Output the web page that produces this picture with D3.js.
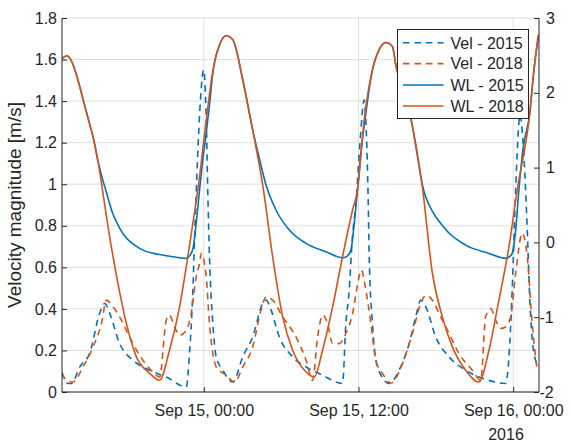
<!DOCTYPE html>
<html><head><meta charset="utf-8">
<script src="https://cdn.jsdelivr.net/npm/d3@7"></script>
<style>
body{margin:0;background:#fff}
svg{display:block}
text{font-family:"Liberation Sans",Arial,Helvetica,sans-serif;fill:#262626}
</style>
</head><body>
<svg id="chart" width="572" height="443"></svg>
<script>
// ---- data (time in hours relative to 2016-09-15 00:00) ----
const xDomainHours = [-11, 26];
const xTickHours = [0, 12, 24];
const xTickLabels = ["Sep 15, 00:00", "Sep 15, 12:00", "Sep 16, 00:00"];
const xYearLabel = "2016";
const velTicks = [0, 0.2, 0.4, 0.6, 0.8, 1, 1.2, 1.4, 1.6, 1.8];
const wlTicks = [-2, -1, 0, 1, 2, 3];
const yLabel = "Velocity magnitude [m/s]";
const seriesNames = ["Vel - 2015", "Vel - 2018", "WL - 2015", "WL - 2018"];

const vel2015Hours = [-11.02,-10.53,-10.27,-9.62,-8.85,-8.08,-7.69,-7.30,-6.53,-5.50,-4.21,-2.91,-1.36,-1.11,-0.87,-0.72,-0.49,-0.26,-0.02,0.19,0.31,0.44,0.70,0.96,1.47,2.25,3.02,3.79,4.57,4.83,5.22,5.86,6.89,7.93,9.21,10.76,11.02,11.28,11.51,11.82,12.13,12.44,12.60,12.75,12.83,13.08,13.47,14.38,15.15,15.93,16.44,16.83,17.22,17.99,19.02,20.31,22.12,23.41,23.67,23.92,24.19,24.44,24.52,24.75,25.06,25.29,25.52,25.94];
const vel2015 = [0.096,0.041,0.041,0.121,0.187,0.379,0.426,0.379,0.233,0.153,0.105,0.072,0.024,0.187,0.456,0.731,1.117,1.406,1.551,1.310,0.958,0.651,0.330,0.169,0.105,0.048,0.169,0.265,0.426,0.442,0.394,0.265,0.169,0.121,0.081,0.041,0.330,0.490,0.731,0.924,1.213,1.406,1.262,0.924,0.651,0.330,0.121,0.041,0.105,0.233,0.362,0.442,0.410,0.265,0.169,0.105,0.056,0.041,0.169,0.490,0.973,1.296,1.335,1.213,0.828,0.442,0.225,0.121];

const vel2018Hours = [-11.02,-10.65,-10.14,-9.37,-8.59,-7.94,-7.55,-7.04,-6.53,-6.01,-5.50,-4.72,-3.95,-3.43,-2.91,-2.66,-2.27,-1.88,-1.36,-0.98,-0.59,-0.33,-0.20,0.19,0.44,0.96,1.73,2.38,3.02,3.79,4.44,4.83,5.34,6.12,7.15,7.93,8.44,8.83,9.21,9.60,9.99,10.51,11.02,11.54,11.92,12.21,12.57,12.96,13.34,13.86,14.51,15.41,16.18,16.83,17.22,17.73,18.25,19.02,19.79,20.83,21.48,21.86,22.25,22.64,23.02,23.41,23.80,24.19,24.70,25.09,25.47,25.86];
const vel2018 = [0.090,0.056,0.048,0.121,0.217,0.330,0.442,0.410,0.362,0.297,0.233,0.153,0.096,0.072,0.346,0.370,0.313,0.273,0.297,0.378,0.554,0.619,0.667,0.554,0.330,0.121,0.081,0.048,0.121,0.217,0.394,0.458,0.442,0.362,0.265,0.153,0.056,0.265,0.370,0.330,0.233,0.233,0.282,0.378,0.514,0.587,0.490,0.330,0.153,0.089,0.043,0.137,0.282,0.426,0.466,0.442,0.378,0.282,0.185,0.105,0.056,0.362,0.402,0.346,0.306,0.313,0.362,0.571,0.764,0.651,0.330,0.105];

const wl2015Hours = [-11.02,-10.63,-10.24,-9.93,-9.62,-9.24,-8.85,-8.59,-8.23,-7.88,-7.56,-7.30,-7.05,-6.76,-6.53,-6.01,-5.37,-4.72,-3.43,-2.27,-1.36,-1.11,-0.85,-0.59,-0.33,-0.08,0.19,0.44,0.70,1.22,1.73,2.25,3.02,3.79,4.28,4.78,5.60,6.63,7.93,9.48,10.76,11.13,11.41,11.67,11.92,12.21,12.52,13.08,13.60,14.12,14.63,14.89,16.06,16.62,16.85,17.09,17.48,17.99,18.48,19.02,20.31,22.12,23.41,23.76,23.92,24.19,24.44,24.75,25.30,25.61,25.94];
const wl2015 = [2.455,2.495,2.415,2.268,2.080,1.828,1.578,1.411,1.103,0.862,0.674,0.513,0.379,0.272,0.192,0.058,-0.036,-0.103,-0.163,-0.196,-0.214,-0.183,-0.089,0.255,0.701,1.103,1.464,1.839,2.268,2.642,2.763,2.709,2.174,1.504,1.143,0.795,0.433,0.165,-0.013,-0.125,-0.206,-0.183,-0.103,0.255,0.701,1.236,1.665,2.308,2.576,2.673,2.620,2.375,1.661,1.103,0.862,0.674,0.500,0.343,0.233,0.125,-0.036,-0.147,-0.214,-0.183,-0.147,0.165,0.701,1.236,1.745,2.308,2.736];

const wl2018Hours = [-11.02,-10.63,-10.24,-9.93,-9.62,-9.24,-8.85,-8.59,-8.23,-7.82,-7.45,-7.04,-6.53,-6.01,-5.23,-4.20,-3.43,-2.66,-1.88,-1.36,-0.85,-0.46,0.19,0.70,1.22,1.73,2.25,3.02,3.79,4.57,5.34,6.12,6.89,7.93,8.57,9.21,9.99,10.76,11.54,11.92,12.44,13.08,13.60,14.12,14.63,14.89,16.06,16.95,17.73,18.50,19.28,20.31,21.34,22.12,22.89,23.67,24.31,25.22,25.61,25.94];
const wl2018 = [2.455,2.495,2.415,2.268,2.080,1.828,1.578,1.411,1.103,0.657,0.232,-0.192,-0.665,-1.080,-1.531,-1.750,-1.843,-1.442,-0.862,-0.326,0.255,0.701,1.638,2.288,2.642,2.763,2.709,2.174,1.504,0.768,-0.192,-0.996,-1.442,-1.732,-1.799,-1.442,-0.862,-0.192,0.433,0.701,1.638,2.308,2.576,2.673,2.620,2.375,1.661,0.745,-0.411,-0.996,-1.397,-1.709,-1.866,-1.442,-0.772,-0.058,0.701,1.638,2.308,2.776];

// ---- layout ----
const baseMs = Date.UTC(2016, 8, 15, 0, 0);
const toDate = h => new Date(baseMs + h * 3600e3);
const m = {left: 62, right: 539, top: 18, bottom: 392};
const blue = "#0072BD", orange = "#D95319", axisCol = "#262626";

const svg = d3.select("#chart");
const x = d3.scaleUtc().domain(xDomainHours.map(toDate)).range([m.left, m.right]);
const yL = d3.scaleLinear().domain([0, 1.8]).range([m.bottom, m.top]);
const yR = d3.scaleLinear().domain([-2, 3]).range([m.bottom, m.top]);

// grid
const grid = svg.append("g").attr("stroke", "#dfdfdf").attr("stroke-width", 1);
velTicks.forEach(v => grid.append("line").attr("x1", m.left).attr("x2", m.right).attr("y1", yL(v)).attr("y2", yL(v)));
xTickHours.forEach(h => grid.append("line").attr("x1", x(toDate(h))).attr("x2", x(toDate(h))).attr("y1", m.top).attr("y2", m.bottom));

// clip
svg.append("clipPath").attr("id", "clip").append("rect")
  .attr("x", m.left).attr("y", m.top - 2).attr("width", m.right - m.left).attr("height", m.bottom - m.top + 2);
const plot = svg.append("g").attr("clip-path", "url(#clip)");

const mk = (hours, vals) => hours.map((h, i) => [toDate(h), vals[i]]);
const lineL = d3.line().x(d => x(d[0])).y(d => yL(d[1])).curve(d3.curveMonotoneX);
const lineR = d3.line().x(d => x(d[0])).y(d => yR(d[1])).curve(d3.curveMonotoneX);
const dash = "6.5,5";

const series = [
  {name: seriesNames[0], data: mk(vel2015Hours, vel2015), line: lineL, color: blue, dash: dash},
  {name: seriesNames[1], data: mk(vel2018Hours, vel2018), line: lineL, color: orange, dash: dash},
  {name: seriesNames[2], data: mk(wl2015Hours, wl2015), line: lineR, color: blue, dash: null},
  {name: seriesNames[3], data: mk(wl2018Hours, wl2018), line: lineR, color: orange, dash: null}
];
series.forEach(s => {
  plot.append("path").datum(s.data).attr("d", s.line)
    .attr("fill", "none").attr("stroke", s.color).attr("stroke-width", 1.6)
    .attr("stroke-dasharray", s.dash);
});

// axes
const fs = 16;
const axL = svg.append("g").attr("transform", `translate(${m.left},0)`)
  .call(d3.axisLeft(yL).tickValues(velTicks).tickFormat(d => d3.format("")(+d.toFixed(1))).tickSize(-5).tickPadding(5));
const axR = svg.append("g").attr("transform", `translate(${m.right},0)`)
  .call(d3.axisRight(yR).tickValues(wlTicks).tickFormat(d => String(d)).tickSize(-5).tickPadding(7));
const axB = svg.append("g").attr("transform", `translate(0,${m.bottom})`)
  .call(d3.axisBottom(x).tickValues(xTickHours.map(toDate)).tickFormat((d, i) => xTickLabels[i]).tickSize(-5).tickPadding(13));
[axL, axR, axB].forEach(a => {
  a.select(".domain").attr("stroke", axisCol).attr("stroke-width", 1);
  a.selectAll(".tick line").attr("stroke", axisCol);
  a.selectAll("text").attr("font-size", fs).style("fill", axisCol).attr("font-family", null);
});
axR.selectAll(".tick text").attr("dx", d => d < 0 ? -6.5 : 0);
axB.select(".domain").attr("d", `M${m.left},0H${m.right}`);
axL.select(".domain").attr("d", `M0,${m.bottom}V${m.top}`);
axR.select(".domain").attr("d", `M0,${m.bottom}V${m.top}`);

svg.append("text").attr("x", 506).attr("y", 439.5).attr("text-anchor", "middle")
  .attr("font-size", fs).text(xYearLabel);

svg.append("text").attr("transform", `translate(21,205) rotate(-90)`).attr("text-anchor", "middle")
  .attr("font-size", 19).text(yLabel);

// legend
const lg = svg.append("g");
lg.append("rect").attr("x", 397.5).attr("y", 29.5).attr("width", 131).attr("height", 89)
  .attr("fill", "#fff").attr("stroke", axisCol).attr("stroke-width", 1);
const rowY = [42.7, 63.6, 85, 106];
series.forEach((s, i) => {
  lg.append("line").attr("x1", 403).attr("x2", 443.5).attr("y1", rowY[i]).attr("y2", rowY[i])
    .attr("stroke", s.color).attr("stroke-width", 1.6).attr("stroke-dasharray", s.dash);
  lg.append("text").attr("x", 450.5).attr("y", rowY[i] + 5.8).attr("font-size", fs).text(s.name);
});
</script>
</body></html>
